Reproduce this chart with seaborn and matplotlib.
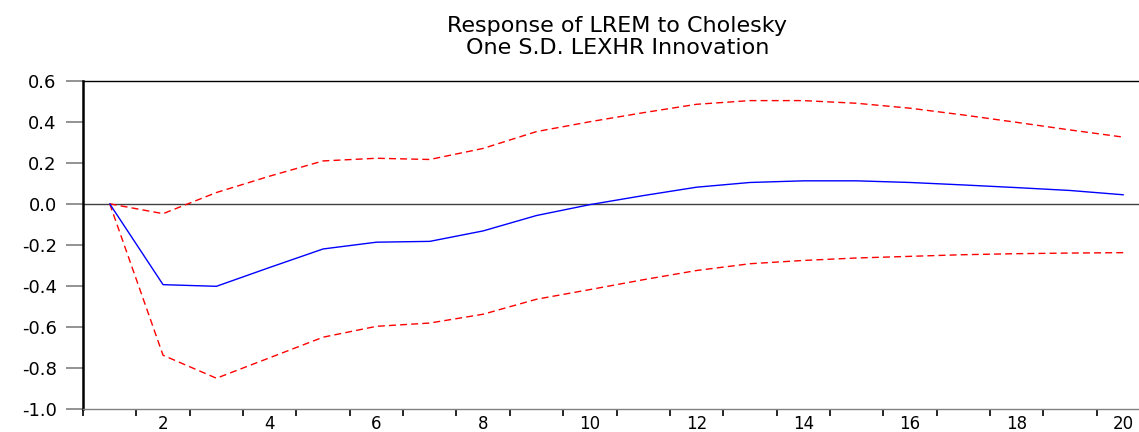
import matplotlib
matplotlib.use("Agg")
import matplotlib.pyplot as plt
import numpy as np
import seaborn as sns
from matplotlib.ticker import FixedLocator


# =========================================================
# Data
# =========================================================

periods = list(range(1, 21))

response = [0.000, -0.394, -0.402, -0.310, -0.220, -0.187, -0.183, -0.132,
            -0.057, -0.004, 0.040, 0.081, 0.104, 0.112, 0.112, 0.104,
            0.092, 0.079, 0.065, 0.044]

upper_band = [0.000, -0.048, 0.055, 0.135, 0.209, 0.222, 0.216, 0.270,
              0.352, 0.400, 0.444, 0.485, 0.503, 0.503, 0.490, 0.466,
              0.433, 0.397, 0.360, 0.325]

lower_band = [0.000, -0.738, -0.850, -0.750, -0.650, -0.597, -0.581, -0.538,
              -0.465, -0.418, -0.370, -0.325, -0.292, -0.276, -0.264, -0.256,
              -0.248, -0.243, -0.240, -0.238]

y_ticks = [-1.0, -0.8, -0.6, -0.4, -0.2, 0.0, 0.2, 0.4, 0.6]
x_labels = [2, 4, 6, 8, 10, 12, 14, 16, 18, 20]

title = "Response of LREM to Cholesky\nOne S.D. LEXHR Innovation"


# =========================================================
# Figure
# =========================================================

sns.set_theme(style="white")
plt.rcParams["font.family"] = ["DejaVu Sans"]
plt.rcParams["text.color"] = "black"
plt.rcParams["xtick.color"] = "black"
plt.rcParams["ytick.color"] = "black"

fig = plt.figure(figsize=(11.39, 4.32), dpi=100)
ax = fig.add_axes([0.0729, 0.0532, 0.9368, 0.76])

sns.lineplot(x=periods, y=upper_band, color="#ff0000", lw=1.0, ax=ax)
sns.lineplot(x=periods, y=lower_band, color="#ff0000", lw=1.0, ax=ax)
sns.lineplot(x=periods, y=response, color="#0000ff", lw=1.0, ax=ax)

for line in ax.lines[:2]:
    line.set_linestyle((0, (5, 3)))

ax.axhline(0, color="#404040", lw=1.0, zorder=1)

ax.set_xlim(0.5, 20.5)
ax.set_ylim(-1.0, 0.6)

# tick marks between periods, labels at even periods
ax.xaxis.set_major_locator(FixedLocator(np.arange(0.5, 20.5, 1.0)))
ax.xaxis.set_minor_locator(FixedLocator(x_labels))
ax.set_xticklabels([])
ax.set_xticklabels([str(v) for v in x_labels], minor=True)
ax.tick_params(axis="x", which="major", direction="out", length=5,
               width=1.2, color="black", bottom=True)
ax.tick_params(axis="x", which="minor", length=0, pad=4,
               labelsize=12, labelcolor="black", bottom=True)

ax.set_yticks(y_ticks)
ax.set_yticklabels([f"{v:.1f}" for v in y_ticks])
ax.tick_params(axis="y", direction="out", length=12, width=1.2,
               color="#808080", pad=7, labelsize=13, labelcolor="black",
               left=True)

ax.spines["left"].set_color("black")
ax.spines["left"].set_linewidth(1.8)
ax.spines["top"].set_color("black")
ax.spines["top"].set_linewidth(1.0)
ax.spines["bottom"].set_color("#808080")
ax.spines["bottom"].set_linewidth(1.0)
ax.spines["right"].set_visible(False)

ax.set_xlabel("")
ax.set_ylabel("")

fig.text(0.542, 0.962, title, ha="center", va="top", fontsize=16,
         color="black", linespacing=1.1)

plt.savefig("out.png", dpi=100)
